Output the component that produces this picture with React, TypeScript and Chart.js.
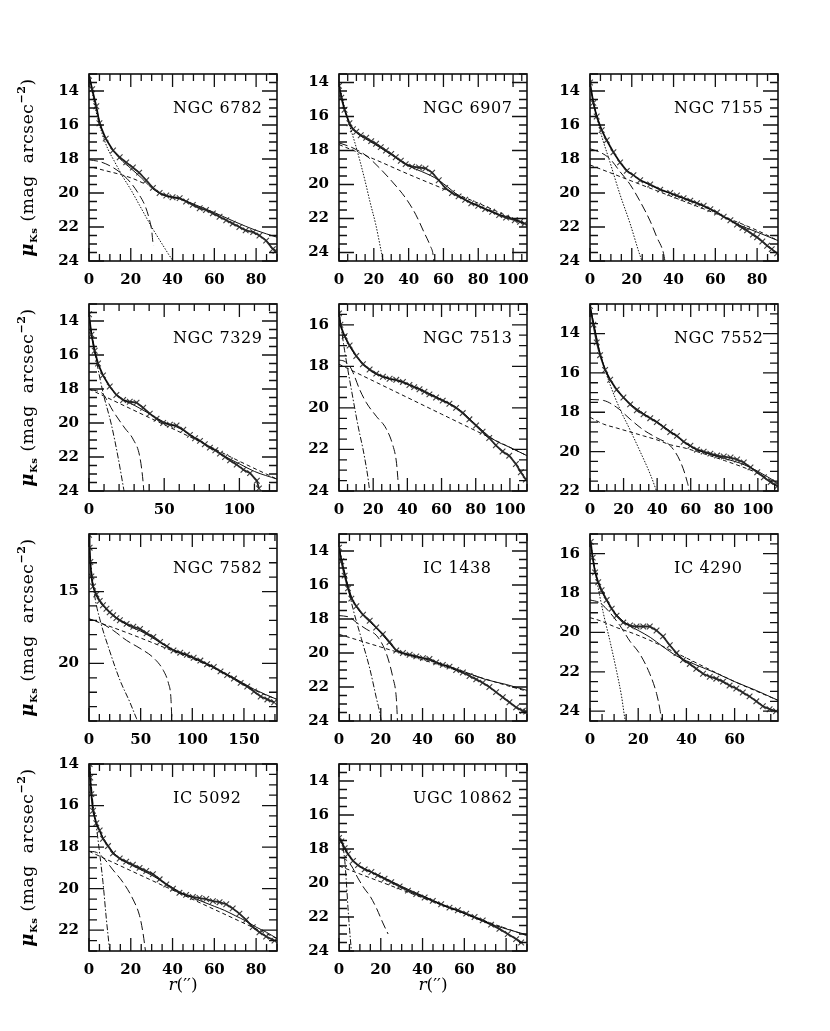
import { useEffect, useRef } from "react";
import { Chart, registerables } from "chart.js";

Chart.register(...registerables);

type Pt = [number, number];

// NGC 6782
const ngc6782Obs: Pt[] = [[0,13.1],[1.5,13.9],[3.5,14.9],[5,15.9],[8,16.8],[11.5,17.5],[14.7,17.9],[17.8,18.2],[21,18.5],[24,18.8],[27.4,19.25],[30.6,19.7],[33.8,20.0],[37,20.15],[40,20.25],[43.4,20.3],[46.5,20.5],[49.7,20.7],[53,20.9],[56,21.0],[59.3,21.2],[62.5,21.4],[65.7,21.6],[68.8,21.8],[72,22.0],[75,22.2],[78.6,22.3],[81.6,22.5],[84.8,22.8],[88,23.3],[89.3,23.4]];
const ngc6782Model: Pt[] = [[0,13.0],[3,14.7],[6,16.2],[10,17.2],[15,18.0],[20,18.55],[25,19.1],[30,19.7],[35,20.1],[40,20.25],[45,20.4],[50,20.65],[60,21.15],[70,21.7],[80,22.2],[90,22.6]];
const ngc6782Bulge: Pt[] = [[0,13.0],[3,15.0],[6,16.4],[9,17.4],[12,18.1],[16,19.0],[20,19.8],[25,20.9],[30,22.0],[35,23.0],[40,23.95],[41,24.1]];
const ngc6782Bar: Pt[] = [[0,18.05],[5,18.15],[10,18.4],[15,18.8],[20,19.4],[24,20.1],[27,20.8],[29,21.6],[30,22.2],[30.6,22.9],[31,23.1]];
const ngc6782Disk: Pt[] = [[2,18.5],[8.3,18.7],[14.7,18.9],[21,19.15],[27.4,19.5]];

// NGC 6907
const ngc6907Obs: Pt[] = [[0,14.2],[1.3,14.9],[3.2,15.6],[6,16.4],[8,16.75],[9.9,16.9],[12.5,17.1],[15.6,17.25],[18.5,17.45],[21.3,17.6],[24,17.8],[27,18.0],[30,18.2],[32.6,18.4],[35.5,18.6],[38.3,18.8],[42,18.95],[46,19.0],[49.7,19.05],[53.5,19.3],[57.3,19.75],[61,20.2],[64.9,20.5],[68.7,20.7],[72.5,20.9],[76,21.1],[80,21.25],[84,21.45],[88,21.6],[92,21.8],[96,21.95],[101,22.1],[104,22.2],[106.6,22.3]];
const ngc6907Model: Pt[] = [[0,14.1],[3,15.5],[6,16.4],[10,16.95],[15,17.3],[20,17.6],[30,18.25],[40,18.9],[50,19.35],[55,19.6],[60,19.95],[70,20.75],[80,21.25],[90,21.7],[100,22.0],[108,22.35]];
const ngc6907Bulge: Pt[] = [[0,14.1],[3,15.4],[6,16.5],[9,17.5],[12,18.6],[15,19.8],[18,21.1],[21,22.3],[24,23.8],[25,24.3],[25.5,24.6]];
const ngc6907Bar: Pt[] = [[0,17.55],[8,17.85],[15.6,18.3],[23,19.0],[30.7,19.85],[38.3,20.8],[44,21.75],[48.8,22.8],[52.6,23.65],[54,24.1],[54.5,24.6]];
const ngc6907Disk: Pt[] = [[0,17.65],[20,18.5],[40,19.4],[60,20.25],[80,21.1],[100,22.0],[108,22.35]];

// NGC 7155
const ngc7155Obs: Pt[] = [[0,13.5],[1.6,14.7],[3.2,15.5],[5.6,16.3],[8,16.9],[11.2,17.6],[14.4,18.2],[17.6,18.7],[20.8,18.95],[24,19.25],[28.8,19.5],[33.6,19.8],[38.4,20.0],[41.6,20.15],[44.8,20.3],[48,20.45],[51.2,20.6],[54.4,20.75],[57.6,20.95],[60.8,21.15],[64,21.4],[67.2,21.6],[70.4,21.85],[73,22.05],[75.2,22.2],[78,22.45],[80,22.6],[82.5,22.85],[84.8,23.1],[87,23.3],[89.6,23.55]];
const ngc7155Model: Pt[] = [[0,13.6],[2,14.9],[5,16.1],[8,16.9],[12,17.75],[16,18.45],[20,18.9],[25,19.3],[30,19.6],[40,20.1],[50,20.55],[60,21.1],[70,21.8],[80,22.3],[90,22.8]];
const ngc7155Bulge: Pt[] = [[0,13.7],[4.8,16.3],[9.6,18.2],[14.4,20.1],[19.2,21.8],[23.2,23.4],[24.8,24.0],[25,24.1]];
const ngc7155Bar: Pt[] = [[0,17.4],[4.8,17.6],[9.6,18.0],[14.4,18.75],[19.2,19.5],[24,20.5],[28.8,21.65],[32,22.6],[35.2,23.55],[36,24.1]];
const ngc7155Disk: Pt[] = [[0,18.35],[20,19.3],[40,20.25],[60,21.2],[80,22.2],[90,22.8]];

// NGC 7329
const ngc7329Obs: Pt[] = [[0,13.6],[1.6,14.8],[3.8,15.75],[6,16.5],[9.3,17.2],[13.8,17.85],[18.2,18.35],[22.7,18.65],[27.1,18.75],[31.6,18.8],[36,19.1],[40.4,19.45],[44.9,19.75],[49.3,20.0],[53.8,20.1],[58.2,20.15],[62.7,20.4],[67.1,20.7],[70.5,20.9],[73.8,21.05],[77,21.25],[80.4,21.45],[84,21.6],[87.1,21.8],[90.5,22.0],[93.8,22.2],[98.2,22.45],[102.7,22.75],[107.1,22.95],[111.6,23.4],[113,23.85]];
const ngc7329Model: Pt[] = [[0,13.7],[3,15.5],[6,16.5],[10,17.3],[15,18.0],[20,18.45],[25,18.75],[30,18.95],[40,19.45],[50,19.95],[60,20.3],[70,20.85],[80,21.4],[90,21.95],[100,22.4],[110,22.85],[125,23.3]];
const ngc7329Bulge: Pt[] = [[0,13.8],[4.9,16.3],[9.3,18.2],[14.9,20.1],[19.3,22.0],[23.1,23.9],[23.5,24.1]];
const ngc7329Bar: Pt[] = [[0,18.05],[4.9,18.1],[9.3,18.3],[16,19.3],[23.8,20.3],[29.3,20.95],[33.8,22.0],[36,23.5],[36.5,24.1]];
const ngc7329Disk: Pt[] = [[0,18.0],[25,19.05],[50,20.1],[75,21.15],[100,22.25],[125,23.3]];

// NGC 7513
const ngc7513Obs: Pt[] = [[0,15.45],[0.8,16.0],[3.3,16.55],[6.2,17.0],[10.1,17.5],[14,17.9],[17.9,18.15],[21.8,18.35],[25.7,18.5],[29.6,18.6],[33.5,18.65],[37.4,18.75],[41.2,18.9],[44,19.0],[47.1,19.1],[50,19.22],[52.9,19.35],[56.8,19.5],[60.7,19.65],[64.6,19.8],[68.5,20.0],[72.4,20.25],[76.3,20.55],[80.2,20.85],[84,21.15],[87.9,21.45],[91.8,21.8],[95.7,22.1],[99.6,22.3],[103.5,22.7],[106.4,23.1],[109.3,23.45]];
const ngc7513Model: Pt[] = [[0,15.45],[1,16.0],[3,16.5],[6,17.0],[10,17.5],[15,17.95],[20,18.3],[30,18.6],[40,18.85],[50,19.2],[60,19.6],[70,20.05],[80,20.8],[90,21.5],[100,21.9],[110,22.3]];
const ngc7513Bulge: Pt[] = [[0,15.4],[3.3,17.25],[7.2,19.1],[11.1,20.85],[15,22.4],[17.9,24.0],[18,24.1]];
const ngc7513Bar: Pt[] = [[0,17.7],[3,17.75],[6,17.95],[8.2,18.3],[12,19.1],[16,19.75],[21.8,20.4],[27.6,21.0],[31.5,21.8],[33.5,22.55],[34.4,23.35],[35,24.1]];
const ngc7513Disk: Pt[] = [[0,17.9],[20,18.7],[40,19.5],[60,20.3],[80,21.1],[100,21.9],[110,22.3]];

// NGC 7552
const ngc7552Obs: Pt[] = [[0,12.6],[2,13.55],[4,14.45],[6,15.1],[9,15.85],[12,16.35],[15.9,16.85],[19.9,17.25],[23.9,17.6],[27.9,17.9],[31.9,18.1],[35.9,18.3],[39.8,18.5],[43.8,18.75],[47.8,19.0],[51.8,19.2],[55.8,19.5],[59.8,19.7],[63.7,19.9],[67.7,20.0],[71.7,20.1],[75.7,20.2],[79.7,20.25],[83.7,20.3],[87.6,20.4],[91.6,20.55],[95.6,20.8],[99.6,21.05],[103.6,21.3],[107.6,21.55],[111.6,21.75]];
const ngc7552Model: Pt[] = [[0,12.6],[3,13.8],[6,15.0],[10,16.0],[15,16.75],[20,17.25],[25,17.65],[30,17.95],[35,18.25],[40,18.5],[45,18.8],[50,19.1],[55,19.45],[60,19.75],[65,19.95],[70,20.1],[80,20.35],[90,20.6],[100,21.0],[112,21.6]];
const ngc7552Bulge: Pt[] = [[0,12.6],[6,15.0],[12,16.6],[17.9,17.85],[23.9,18.9],[29.9,20.0],[35.9,21.15],[39.4,21.95],[40,22.1]];
const ngc7552Bar: Pt[] = [[0,17.35],[8,17.4],[15.9,17.75],[23.9,18.35],[31.9,18.9],[39.8,19.3],[47.8,19.7],[53.8,20.5],[57.8,21.5],[58.8,21.9],[59,22.1]];
const ngc7552Disk: Pt[] = [[0,18.25],[8,18.6],[15.9,18.8],[23.9,19.0],[31.9,19.2],[39.8,19.4],[47.8,19.65],[55.8,19.8],[61.8,19.95],[80,20.45],[100,21.1],[112,21.65]];

// NGC 7582
const ngc7582Obs: Pt[] = [[0,11.05],[0.6,11.95],[1.3,12.95],[2.3,13.95],[3.9,14.65],[7.1,15.2],[10.4,15.65],[13.5,15.95],[16.9,16.2],[20,16.45],[23.4,16.65],[26.5,16.85],[29.9,17.0],[36.4,17.25],[42.9,17.45],[49.4,17.6],[55.8,17.9],[62.3,18.15],[68.8,18.5],[75.3,18.8],[81.8,19.1],[88.3,19.25],[94.8,19.4],[101.3,19.6],[107.8,19.8],[114.3,20.05],[120.8,20.25],[127.3,20.55],[133.8,20.8],[140.3,21.05],[146.8,21.35],[153.2,21.6],[159.7,21.95],[166.2,22.3],[172.7,22.5],[179.2,22.7]];
const ngc7582Model: Pt[] = [[0,11.2],[1.5,13.2],[3,14.3],[6,15.1],[10,15.65],[20,16.45],[30,17.0],[40,17.45],[50,17.75],[60,18.15],[70,18.6],[80,19.0],[90,19.3],[100,19.6],[120,20.25],[140,21.0],[160,21.8],[182,22.5]];
const ngc7582Bulge: Pt[] = [[0,12.0],[5.5,15.3],[10.4,16.9],[20.1,19.15],[29.9,21.15],[39.6,22.7],[46.1,23.85],[47,24.0]];
const ngc7582Bar: Pt[] = [[0,16.9],[10.4,17.15],[23.4,17.7],[36.4,18.4],[49.4,18.95],[62.3,19.6],[72.1,20.5],[77,21.4],[79.2,22.3],[80.2,23.85],[80.3,24.0]];
const ngc7582Disk: Pt[] = [[0,16.9],[40,17.95],[80,19.1],[120,20.3],[160,21.85],[182,22.5]];

// IC 1438
const ic1438Obs: Pt[] = [[0,13.8],[1.1,14.6],[2.7,15.45],[4.3,16.2],[5.9,16.8],[8.3,17.25],[11.5,17.75],[14.7,18.1],[17.8,18.5],[21,18.9],[24.2,19.35],[27.4,19.85],[30.6,20.0],[33.8,20.1],[37,20.2],[40.2,20.3],[43.3,20.35],[46.5,20.55],[49.7,20.7],[52.9,20.8],[56.1,21.0],[59.3,21.15],[62.5,21.35],[65.7,21.55],[68.8,21.75],[72,22.0],[75.2,22.3],[78.4,22.6],[81.6,22.9],[84.8,23.2],[88,23.4],[89.6,23.45]];
const ic1438Model: Pt[] = [[0,13.8],[2,14.9],[4,15.9],[6,16.7],[9,17.4],[12,17.85],[15,18.2],[18,18.55],[21,18.95],[24,19.4],[27,19.8],[30,20.0],[40,20.3],[50,20.7],[60,21.1],[70,21.55],[80,21.85],[90,22.2]];
const ic1438Bulge: Pt[] = [[0,13.8],[3.5,15.7],[6.7,17.4],[10.7,19.15],[14.7,20.9],[17.8,22.6],[19.9,23.75],[20.3,24.1]];
const ic1438Bar: Pt[] = [[0,17.8],[5.1,17.9],[8.3,18.2],[13.1,18.6],[17.8,18.95],[21,19.55],[23.4,20.3],[25.8,21.45],[27.4,22.6],[27.9,23.75],[28,24.1]];
const ic1438Disk: Pt[] = [[0,18.9],[20,19.65],[40,20.4],[60,21.15],[80,21.9],[90,22.25]];

// IC 4290
const ic4290Obs: Pt[] = [[0.3,15.4],[1.1,16.2],[2.1,16.95],[3.4,17.45],[4.8,17.85],[6.9,18.35],[9,18.8],[11,19.15],[13.8,19.5],[16.6,19.65],[19.3,19.7],[22.1,19.7],[24.8,19.7],[27.6,19.9],[30.3,20.2],[33.1,20.65],[35.9,21.05],[38.6,21.4],[41.4,21.6],[44.1,21.85],[46.9,22.1],[49.7,22.25],[52.4,22.35],[55.2,22.5],[57.9,22.7],[60.7,22.85],[63.4,23.05],[66.2,23.25],[69,23.5],[71.7,23.75],[74.5,23.9],[77.2,24.0]];
const ic4290Model: Pt[] = [[0,15.3],[1,16.1],[2,16.8],[3.5,17.5],[5,17.95],[7,18.4],[9,18.8],[11,19.1],[14,19.45],[17,19.7],[20,19.9],[25,20.25],[30,20.7],[36,21.2],[44,21.65],[52,22.05],[60,22.5],[69,22.95],[78,23.45]];
const ic4290Bulge: Pt[] = [[0.3,15.5],[2.8,17.35],[5.5,19.0],[8.3,20.45],[11,21.95],[13.1,23.25],[14.5,24.4],[14.7,24.5]];
const ic4290Bar: Pt[] = [[0,18.35],[4.1,18.5],[8.3,19.0],[12.4,19.65],[16.6,20.45],[20.7,21.1],[24.8,22.1],[27.6,23.1],[29,23.9],[29.7,24.5]];
const ic4290Disk: Pt[] = [[0,19.25],[4.1,19.4],[11,19.75],[17.9,20.05],[24.8,20.4],[40,21.3],[60,22.5],[78,23.45]];

// IC 5092
const ic5092Obs: Pt[] = [[0.3,14.0],[0.6,14.65],[1.1,15.45],[1.9,16.25],[3.5,16.85],[5.1,17.2],[6.7,17.6],[9.1,17.95],[11.5,18.3],[14.7,18.55],[17.8,18.7],[21,18.85],[24.2,19.0],[27.4,19.15],[30.6,19.3],[33.8,19.55],[37,19.8],[40.2,20.0],[43.3,20.2],[46.5,20.3],[49.7,20.4],[52.9,20.45],[56.1,20.5],[59.3,20.6],[62.5,20.65],[65.7,20.75],[68.8,20.95],[72,21.2],[75.2,21.5],[78.4,21.85],[81.6,22.1],[84.8,22.3],[88.8,22.5]];
const ic5092Model: Pt[] = [[0,14.0],[1,15.3],[2,16.2],[3.5,16.85],[5,17.2],[7,17.6],[10,18.05],[14,18.5],[18,18.75],[22,18.95],[26,19.15],[30,19.35],[35,19.65],[40,19.95],[45,20.25],[50,20.45],[55,20.65],[60,20.85],[65,21.05],[70,21.3],[75,21.55],[80,21.85],[85,22.1],[90,22.4]];
const ic5092Bulge: Pt[] = [[0.3,14.0],[1.9,15.9],[3.5,17.0],[5.1,18.3],[6.7,19.7],[8.3,21.45],[9.9,23.0],[10,23.1]];
const ic5092Bar: Pt[] = [[0,18.2],[3.5,18.25],[6.7,18.5],[11.5,19.1],[16.3,19.7],[21,20.5],[24.2,21.3],[25.8,22.1],[27.1,23.05]];
const ic5092Disk: Pt[] = [[0,18.2],[30,19.6],[60,21.0],[90,22.4]];

// UGC 10862
const ugc10862Obs: Pt[] = [[0,17.35],[1.1,17.55],[2.7,17.95],[4.3,18.3],[6.7,18.7],[9.1,18.95],[12.3,19.2],[15.5,19.35],[18.6,19.55],[21.8,19.75],[25,19.95],[29,20.2],[33,20.45],[37,20.65],[41,20.85],[44.9,21.05],[48.9,21.25],[52.9,21.45],[56.9,21.6],[60.9,21.8],[64.9,22.0],[68.8,22.2],[72.8,22.45],[76.8,22.7],[80.8,23.0],[84.8,23.3],[87.2,23.5]];
const ugc10862Model: Pt[] = [[0,17.35],[2,17.8],[4,18.25],[6,18.6],[9,18.95],[12,19.15],[16,19.4],[20,19.6],[30,20.2],[40,20.75],[50,21.3],[60,21.8],[70,22.3],[80,22.7],[90,23.05]];
const ugc10862Bulge: Pt[] = [[0,17.3],[1.1,17.45],[2.7,18.6],[3.5,19.9],[4.3,21.45],[5.1,22.8],[5.9,23.95],[6,24.1]];
const ugc10862Bar: Pt[] = [[0,18.5],[3,18.6],[6,19.0],[9,19.7],[12,20.3],[15,20.8],[18,21.5],[21,22.35],[23.5,23.0]];
const ugc10862Disk: Pt[] = [[0,19.0],[30,20.4],[60,21.8],[90,23.1]];

// 배치 상수
const FONT = "'DejaVu Serif', serif";
const COL_LEFT = [89, 339, 590];
const ROW_TOP = [69, 299, 529, 759];
const BOX_W = 188;
const BOX_H = 192;

const DOT = [1.5, 1.5];
const DASH_DOT = [6, 2, 1.5, 2];
const LONG_DASH = [9, 4];
const SHORT_DASH = [4, 3];

interface Panel {
  name: string;
  col: number;
  row: number;
  nameDx: number;
  xMax: number;
  xStep: number;
  xMinor: number;
  yMin: number;
  yMax: number;
  yStep: number;
  yMinor: number;
  bulgeDash: number[];
  obs: Pt[];
  model: Pt[];
  bulge: Pt[];
  bar: Pt[];
  disk: Pt[];
}

const PANELS: Panel[] = [
  { name: "NGC 6782", col: 0, row: 0, nameDx: 84, xMax: 90, xStep: 20, xMinor: 5, yMin: 13, yMax: 24, yStep: 2, yMinor: 0.5, bulgeDash: DOT, obs: ngc6782Obs, model: ngc6782Model, bulge: ngc6782Bulge, bar: ngc6782Bar, disk: ngc6782Disk },
  { name: "NGC 6907", col: 1, row: 0, nameDx: 84, xMax: 108, xStep: 20, xMinor: 5, yMin: 13.5, yMax: 24.5, yStep: 2, yMinor: 0.5, bulgeDash: DOT, obs: ngc6907Obs, model: ngc6907Model, bulge: ngc6907Bulge, bar: ngc6907Bar, disk: ngc6907Disk },
  { name: "NGC 7155", col: 2, row: 0, nameDx: 84, xMax: 90, xStep: 20, xMinor: 5, yMin: 13, yMax: 24, yStep: 2, yMinor: 0.5, bulgeDash: DOT, obs: ngc7155Obs, model: ngc7155Model, bulge: ngc7155Bulge, bar: ngc7155Bar, disk: ngc7155Disk },
  { name: "NGC 7329", col: 0, row: 1, nameDx: 84, xMax: 125, xStep: 50, xMinor: 10, yMin: 13, yMax: 24, yStep: 2, yMinor: 0.5, bulgeDash: DASH_DOT, obs: ngc7329Obs, model: ngc7329Model, bulge: ngc7329Bulge, bar: ngc7329Bar, disk: ngc7329Disk },
  { name: "NGC 7513", col: 1, row: 1, nameDx: 84, xMax: 110, xStep: 20, xMinor: 5, yMin: 15, yMax: 24, yStep: 2, yMinor: 0.5, bulgeDash: DASH_DOT, obs: ngc7513Obs, model: ngc7513Model, bulge: ngc7513Bulge, bar: ngc7513Bar, disk: ngc7513Disk },
  { name: "NGC 7552", col: 2, row: 1, nameDx: 84, xMax: 112, xStep: 20, xMinor: 5, yMin: 12.5, yMax: 22, yStep: 2, yMinor: 0.5, bulgeDash: DOT, obs: ngc7552Obs, model: ngc7552Model, bulge: ngc7552Bulge, bar: ngc7552Bar, disk: ngc7552Disk },
  { name: "NGC 7582", col: 0, row: 2, nameDx: 84, xMax: 182, xStep: 50, xMinor: 10, yMin: 11, yMax: 24, yStep: 5, yMinor: 1, bulgeDash: DASH_DOT, obs: ngc7582Obs, model: ngc7582Model, bulge: ngc7582Bulge, bar: ngc7582Bar, disk: ngc7582Disk },
  { name: "IC 1438", col: 1, row: 2, nameDx: 84, xMax: 90, xStep: 20, xMinor: 5, yMin: 13, yMax: 24, yStep: 2, yMinor: 0.5, bulgeDash: DASH_DOT, obs: ic1438Obs, model: ic1438Model, bulge: ic1438Bulge, bar: ic1438Bar, disk: ic1438Disk },
  { name: "IC 4290", col: 2, row: 2, nameDx: 84, xMax: 78, xStep: 20, xMinor: 5, yMin: 15, yMax: 24.5, yStep: 2, yMinor: 0.5, bulgeDash: DOT, obs: ic4290Obs, model: ic4290Model, bulge: ic4290Bulge, bar: ic4290Bar, disk: ic4290Disk },
  { name: "IC 5092", col: 0, row: 3, nameDx: 84, xMax: 90, xStep: 20, xMinor: 5, yMin: 14, yMax: 23, yStep: 2, yMinor: 0.5, bulgeDash: DASH_DOT, obs: ic5092Obs, model: ic5092Model, bulge: ic5092Bulge, bar: ic5092Bar, disk: ic5092Disk },
  { name: "UGC 10862", col: 1, row: 3, nameDx: 74, xMax: 90, xStep: 20, xMinor: 5, yMin: 13, yMax: 24, yStep: 2, yMinor: 0.5, bulgeDash: DASH_DOT, obs: ugc10862Obs, model: ugc10862Model, bulge: ugc10862Bulge, bar: ugc10862Bar, disk: ugc10862Disk },
];

function margins(p: Panel) {
  return { left: p.col === 0 ? 85 : 45, top: 14, right: 25, bottom: p.row === 3 ? 55 : 32 };
}

const pts = (arr: Pt[]) => arr.map(([x, y]) => ({ x, y }));

function eachTick(min: number, max: number, minor: number, step: number, fn: (v: number, major: boolean) => void) {
  const k0 = Math.ceil(min / minor - 1e-9);
  const k1 = Math.floor(max / minor + 1e-9);
  for (let k = k0; k <= k1; k++) {
    const v = k * minor;
    const r = v / step;
    fn(v, Math.abs(r - Math.round(r)) < 1e-6);
  }
}

// 라벨이 붙는 큰 눈금만
function majorTicks(min: number, max: number, minor: number, step: number) {
  const out: { value: number }[] = [];
  eachTick(min, max, minor, step, (v, major) => {
    if (major) out.push({ value: Math.round(v * 1000) / 1000 });
  });
  return out;
}

function framePlugin(p: Panel) {
  const m = margins(p);
  return {
    id: "frame",
    afterDraw(chart: any) {
      const { ctx, chartArea: a } = chart;
      const xs = chart.scales.x;
      const ys = chart.scales.y;
      ctx.save();
      ctx.strokeStyle = "#111";
      ctx.lineWidth = 1.6;
      ctx.strokeRect(a.left, a.top, a.right - a.left, a.bottom - a.top);
      ctx.lineWidth = 1.3;
      ctx.beginPath();
      eachTick(0, p.xMax, p.xMinor, p.xStep, (v, major) => {
        const px = xs.getPixelForValue(v);
        const len = major ? 13 : 7;
        ctx.moveTo(px, a.bottom);
        ctx.lineTo(px, a.bottom - len);
        ctx.moveTo(px, a.top);
        ctx.lineTo(px, a.top + len);
      });
      eachTick(p.yMin, p.yMax, p.yMinor, p.yStep, (v, major) => {
        const py = ys.getPixelForValue(v);
        const len = major ? 15 : 8;
        ctx.moveTo(a.left, py);
        ctx.lineTo(a.left + len, py);
        ctx.moveTo(a.right, py);
        ctx.lineTo(a.right - len, py);
      });
      ctx.stroke();

      // 은하 이름
      ctx.fillStyle = "#000";
      ctx.font = `16px ${FONT}`;
      ctx.letterSpacing = "0.6px";
      ctx.textAlign = "left";
      ctx.textBaseline = "middle";
      ctx.fillText(p.name, a.left + p.nameDx, a.top + 35);

      // 세로축 제목 (첫 열만)
      if (p.col === 0) {
        const cx = 27 - (COL_LEFT[0] - m.left);
        const cy = (a.top + a.bottom) / 2;
        const parts = [
          { t: "μ", f: `italic bold 18px ${FONT}`, dy: 0 },
          { t: "Ks", f: `bold 10px ${FONT}`, dy: 4 },
          { t: " (mag  arcsec", f: `17px ${FONT}`, dy: 0 },
          { t: "−2", f: `bold 11px ${FONT}`, dy: -8 },
          { t: ")", f: `17px ${FONT}`, dy: 0 },
        ];
        ctx.letterSpacing = "0.6px";
        let total = 0;
        parts.forEach((s) => {
          ctx.font = s.f;
          total += ctx.measureText(s.t).width;
        });
        ctx.translate(cx, cy);
        ctx.rotate(-Math.PI / 2);
        ctx.textBaseline = "alphabetic";
        let x = -total / 2;
        parts.forEach((s) => {
          ctx.font = s.f;
          ctx.fillText(s.t, x, 6 + s.dy);
          x += ctx.measureText(s.t).width;
        });
        ctx.setTransform(1, 0, 0, 1, 0, 0);
        ctx.scale(chart.currentDevicePixelRatio, chart.currentDevicePixelRatio);
      }

      // 가로축 제목 (마지막 줄만)
      if (p.row === 3) {
        ctx.letterSpacing = "0px";
        ctx.textBaseline = "middle";
        const cx = (a.left + a.right) / 2;
        const y = a.bottom + 35;
        ctx.font = `italic 17px ${FONT}`;
        const w1 = ctx.measureText("r").width;
        ctx.font = `17px ${FONT}`;
        const w2 = ctx.measureText("(′′)").width;
        let x = cx - (w1 + w2) / 2;
        ctx.font = `italic 17px ${FONT}`;
        ctx.fillText("r", x, y);
        x += w1;
        ctx.font = `17px ${FONT}`;
        ctx.fillText("(′′)", x, y);
      }
      ctx.restore();
    },
  };
}

function makeConfig(p: Panel): any {
  const m = margins(p);
  const line = (data: Pt[], dash: number[], width = 1) => ({
    data: pts(data),
    showLine: true,
    pointRadius: 0,
    borderColor: "#111",
    borderWidth: width,
    borderDash: dash,
    cubicInterpolationMode: "monotone",
    fill: false,
  });
  const tickFont = { family: FONT, size: 15, weight: "bold" };
  return {
    type: "scatter",
    data: {
      datasets: [
        {
          data: pts(p.obs),
          showLine: true,
          borderColor: "rgba(0,0,0,0.85)",
          borderWidth: 1.8,
          pointStyle: "crossRot",
          pointRadius: 4,
          pointBorderWidth: 1.1,
          pointBorderColor: "rgba(40,40,40,0.9)",
          pointBackgroundColor: "transparent",
        },
        line(p.model, [], 1),
        line(p.bulge, p.bulgeDash),
        line(p.bar, LONG_DASH),
        line(p.disk, SHORT_DASH),
      ],
    },
    options: {
      animation: false,
      responsive: true,
      maintainAspectRatio: false,
      events: [],
      layout: { padding: { top: m.top, right: m.right, left: 0, bottom: 0 } },
      plugins: { legend: { display: false }, tooltip: { enabled: false } },
      scales: {
        x: {
          type: "linear",
          position: "bottom",
          min: 0,
          max: p.xMax,
          bounds: "data",
          grid: { display: false, drawTicks: false },
          border: { display: false },
          ticks: { padding: 10, color: "#000", font: tickFont, maxRotation: 0, autoSkip: false },
          afterBuildTicks: (s: any) => {
            s.ticks = majorTicks(0, p.xMax, p.xMinor, p.xStep);
          },
          afterFit: (s: any) => {
            s.height = m.bottom;
          },
        },
        y: {
          type: "linear",
          position: "left",
          reverse: true,
          min: p.yMin,
          max: p.yMax,
          bounds: "data",
          grid: { display: false, drawTicks: false },
          border: { display: false },
          ticks: { padding: 10, color: "#000", font: tickFont, autoSkip: false },
          afterBuildTicks: (s: any) => {
            s.ticks = majorTicks(p.yMin, p.yMax, p.yMinor, p.yStep);
          },
          afterFit: (s: any) => {
            s.width = m.left;
          },
        },
      },
    },
    plugins: [framePlugin(p)],
  };
}

export default function App() {
  const refs = useRef<(HTMLCanvasElement | null)[]>([]);

  useEffect(() => {
    const charts = PANELS.map((p, i) => {
      const canvas = refs.current[i];
      if (!canvas) return null;
      return new Chart(canvas, makeConfig(p));
    });
    return () => charts.forEach((c) => c?.destroy());
  }, []);

  return (
    <div style={{ position: "absolute", left: 0, top: 0, width: 830, height: 1031, background: "#fff" }}>
      {PANELS.map((p, i) => {
        const m = margins(p);
        return (
          <div
            key={p.name}
            style={{
              position: "absolute",
              left: COL_LEFT[p.col] - m.left,
              top: ROW_TOP[p.row] - m.top,
              width: BOX_W + m.left + m.right,
              height: BOX_H + m.top + m.bottom,
            }}
          >
            <canvas
              ref={(el) => {
                refs.current[i] = el;
              }}
            />
          </div>
        );
      })}
    </div>
  );
}
